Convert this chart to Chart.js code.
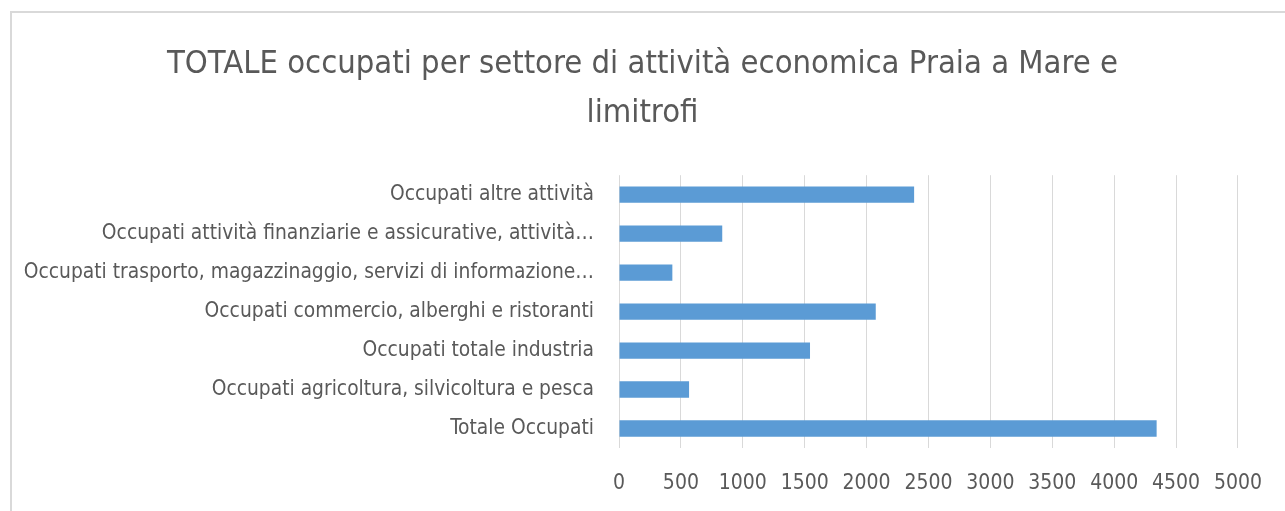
<!DOCTYPE html>
<html>
<head>
<meta charset="utf-8">
<script src="https://cdn.jsdelivr.net/npm/chart.js@4/dist/chart.umd.min.js"></script>
<style>
  html, body { margin: 0; padding: 0; background: #ffffff; }
  #wrap { position: relative; width: 1285px; height: 511px; overflow: hidden; }
  #frame { position: absolute; left: 10px; top: 11px; width: 1400px; height: 600px; border: 2px solid #d9d9d9; box-sizing: border-box; }
  #c { position: absolute; left: 0; top: 0; }
</style>
</head>
<body>
<div id="wrap">
  <div id="frame"></div>
  <canvas id="c" width="1285" height="511"></canvas>
</div>
<script>
const titleLines = ["TOTALE occupati per settore di attività economica Praia a Mare e", "limitrofi"];
const categories = [
  "Occupati altre attività",
  "Occupati attività finanziarie e assicurative, attività…",
  "Occupati trasporto, magazzinaggio, servizi di informazione…",
  "Occupati commercio, alberghi e ristoranti",
  "Occupati totale industria",
  "Occupati agricoltura, silvicoltura e pesca",
  "Totale Occupati"
];
const occupati = [2384, 834, 431, 2074, 1543, 566, 4343];
const xTicks = [0, 500, 1000, 1500, 2000, 2500, 3000, 3500, 4000, 4500, 5000];

const FONT = "'DejaVu Sans Condensed', 'Liberation Sans', Arial, sans-serif";
const GRAY = "#595959";

new Chart(document.getElementById('c'), {
  type: 'bar',
  data: {
    labels: categories,
    datasets: [{
      data: occupati,
      backgroundColor: '#5b9bd5',
      borderWidth: 0,
      barPercentage: 0.42,
      categoryPercentage: 1.0
    }]
  },
  options: {
    indexAxis: 'y',
    responsive: false,
    animation: false,
    devicePixelRatio: 1,
    layout: { padding: { left: 0, right: 0, top: 0, bottom: 0 } },
    plugins: {
      legend: { display: false },
      tooltip: { enabled: false },
      title: {
        display: true,
        text: titleLines,
        color: GRAY,
        font: { family: FONT, size: 32.5, weight: 'normal', lineHeight: 1.48 },
        padding: { top: 41, bottom: 38 }
      }
    },
    scales: {
      x: {
        min: 0,
        max: 5337,
        afterBuildTicks: (s) => { s.ticks = xTicks.map(v => ({ value: v })); },
        afterFit: (s) => { s.height = 63; },
        grid: { color: '#d9d9d9', lineWidth: 1, drawTicks: false },
        border: { display: false },
        ticks: { color: GRAY, font: { family: FONT, size: 21 }, padding: 23, maxRotation: 0, callback: (v) => String(v) }
      },
      y: {
        afterFit: (s) => { s.width = 619; },
        grid: { display: false },
        border: { display: false },
        ticks: { color: GRAY, font: { family: FONT, size: 20.8 }, padding: 17, autoSkip: false }
      }
    }
  }
});
</script>
</body>
</html>
